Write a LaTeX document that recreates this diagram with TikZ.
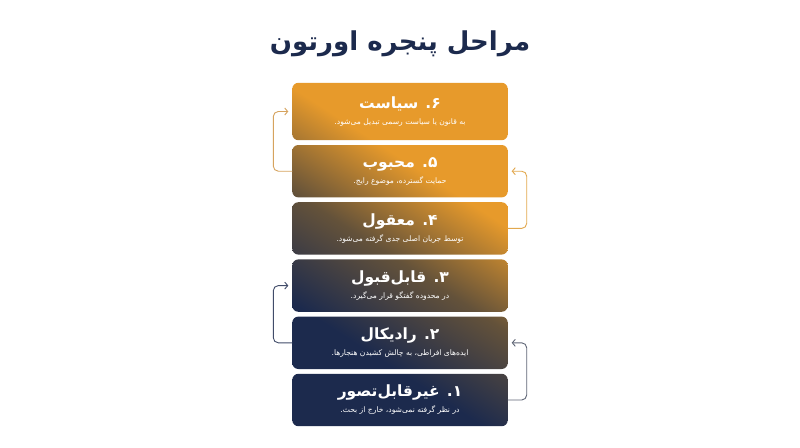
\documentclass[tikz,border=0pt]{standalone}
\usepackage{fontspec}
\newfontfamily\arabicfont[Script=Arabic]{DejaVu Sans}
\TeXXeTstate=1
\usepackage{tikz}
\usetikzlibrary{arrows.meta,positioning,backgrounds}
\definecolor{navy}{HTML}{1C2A4D}
\definecolor{amber}{HTML}{E79A2B}
\definecolor{dusk}{HTML}{64523A}
\pgfdeclareverticalshading{stackfade}{100bp}{color(0bp)=(navy); color(33bp)=(navy); color(49bp)=(dusk); color(64bp)=(amber); color(100bp)=(amber)}
\newcommand{\headfont}{\arabicfont\bfseries\fontsize{15.5}{19}\selectfont}
\newcommand{\descfont}{\arabicfont\fontsize{7.6}{9}\selectfont}
\newcommand{\stagetext}[2]{{\headfont #1}\\[4pt]{\descfont #2}}
\tikzstyle{stage} = [rectangle, text=white, minimum width=215pt, minimum height=52pt, align=center, inner sep=0pt]
\tikzstyle{link} = [line width=0.9pt, rounded corners=5pt, -{Straight Barb[length=3pt,width=7pt]}, shorten >=4pt]

\begin{document}
\begin{tikzpicture}[x=1pt,y=1pt, node distance=4.8pt]
\useasboundingbox (0,0) rectangle (800,-447);

\node (title) at (400,-44) {\arabicfont\bfseries\fontsize{26}{30}\selectfont\color{navy}\beginR مراحل پنجره اورتون\endR};

\node (s6) [stage, minimum height=57pt] at (400,-111.5) {\stagetext{\beginR ۶\kern0pt. سیاست\endR}{\beginR به قانون یا سیاست رسمی تبدیل می‌شود.\endR}};
\node (s5) [stage, below=of s6] {\stagetext{\beginR ۵\kern0pt. محبوب\endR}{\beginR حمایت گسترده، موضوع رایج.\endR}};
\node (s4) [stage, below=of s5] {\stagetext{\beginR ۴\kern0pt. معقول\endR}{\beginR توسط جریان اصلی جدی گرفته می‌شود.\endR}};
\node (s3) [stage, below=of s4] {\stagetext{\beginR ۳\kern0pt. قابل‌قبول\endR}{\beginR در محدوده گفتگو قرار می‌گیرد.\endR}};
\node (s2) [stage, below=of s3] {\stagetext{\beginR ۲\kern0pt. رادیکال\endR}{\beginR ایده‌های افراطی، به چالش کشیدن هنجارها.\endR}};
\node (s1) [stage, below=of s2] {\stagetext{\beginR ۱\kern0pt. غیرقابل‌تصور\endR}{\beginR در نظر گرفته نمی‌شود، خارج از بحث.\endR}};

% gradient behind the six stages
\begin{scope}[on background layer]
\fill[white] (0,0) rectangle (800,-447);
\begin{scope}
\clip[rounded corners=6pt] (s6.south west) rectangle (s6.north east) (s5.south west) rectangle (s5.north east)
  (s4.south west) rectangle (s4.north east) (s3.south west) rectangle (s3.north east)
  (s2.south west) rectangle (s2.north east) (s1.south west) rectangle (s1.north east);
\shade[shading=stackfade, shading angle=-33] (s1.south west) rectangle (s6.north east);
\end{scope}
\end{scope}

\draw [link, color={rgb,255:red,214;green,163;blue,94}] (s5.west) -- ++(-19,0) |- (s6.west);
\draw [link, color={rgb,255:red,226;green,168;blue,78}] (s4.east) -- ++(19,0) |- (s5.east);
\draw [link, color={rgb,255:red,65;green,76;blue,105}] (s2.west) -- ++(-19,0) |- (s3.west);
\draw [link, color={rgb,255:red,94;green,101;blue,117}] (s1.east) -- ++(19,0) |- (s2.east);

\end{tikzpicture}
\end{document}
